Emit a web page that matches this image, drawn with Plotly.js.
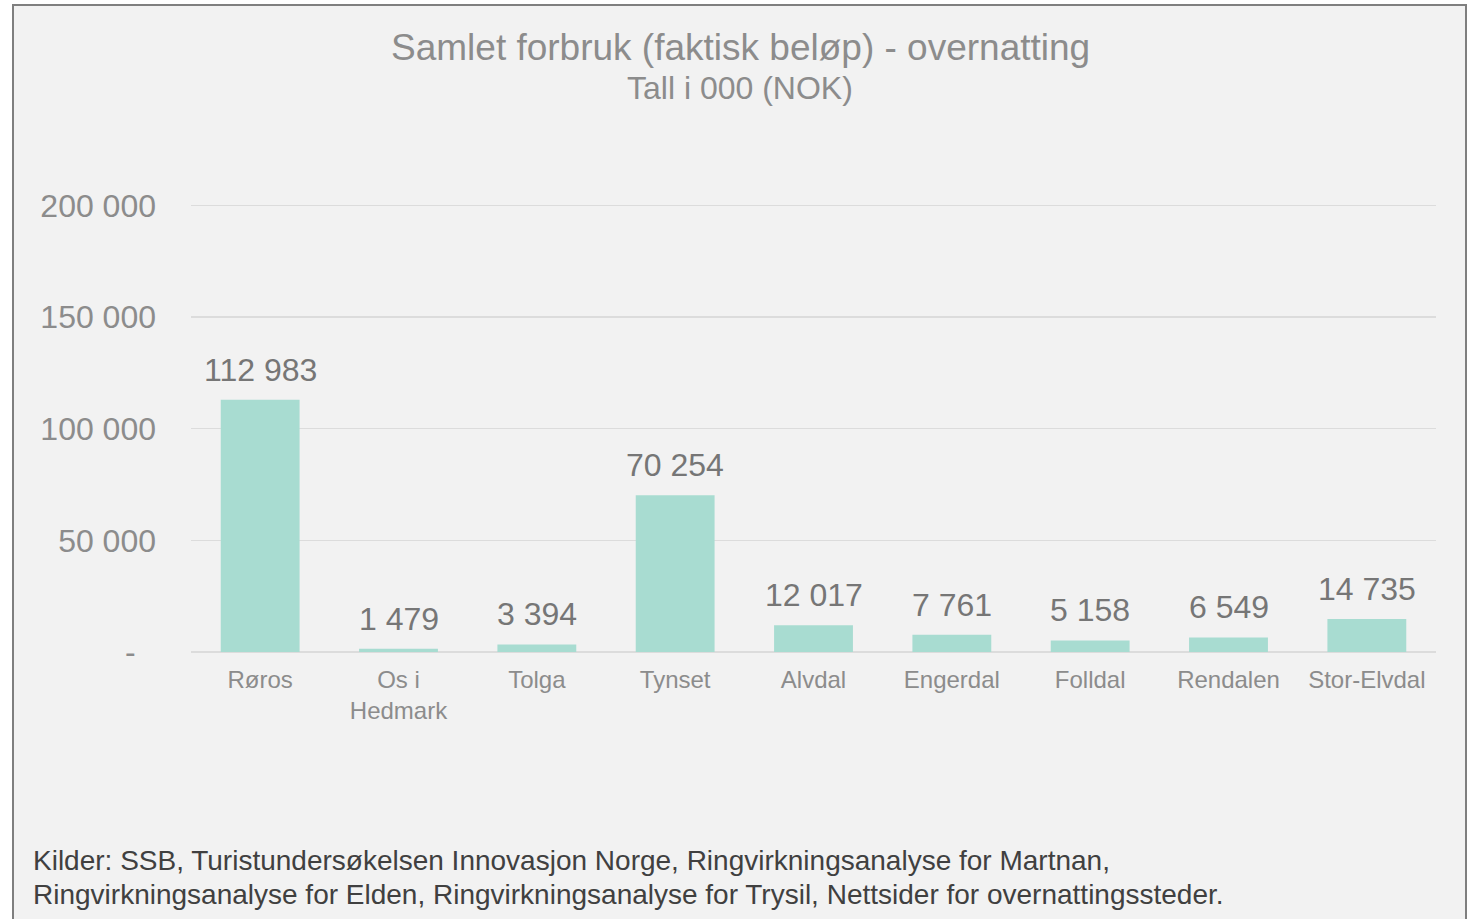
<!DOCTYPE html>
<html>
<head>
<meta charset="utf-8">
<script src="https://cdn.plot.ly/plotly-3.0.1.min.js"></script>
<style>
  html, body { margin: 0; padding: 0; background: #ffffff; overflow: hidden; }
  #frame {
    position: absolute; left: 12px; top: 4px;
    width: 1451px; height: 940px;
    border: 2px solid #7f7f7f;
    background: #f2f2f2;
  }
  #chart { width: 1451px; height: 940px; }
</style>
</head>
<body>
<div id="frame"><div id="chart"></div></div>
<script>
// data
const kommuner = ['Røros', 'Os i<br>Hedmark', 'Tolga', 'Tynset', 'Alvdal',
                  'Engerdal', 'Folldal', 'Rendalen', 'Stor-Elvdal'];
const forbruk  = [112983, 1479, 3394, 70254, 12017, 7761, 5158, 6549, 14735];
const yTicks   = [0, 50000, 100000, 150000, 200000];
const yLabels  = ['-\u00a0\u00a0\u200a', '50 000', '100 000', '150 000', '200 000'];
const kilder   = ['Kilder: SSB, Turistundersøkelsen Innovasjon Norge, Ringvirkningsanalyse for Martnan,',
                  'Ringvirkningsanalyse for Elden, Ringvirkningsanalyse for Trysil, Nettsider for overnattingssteder.'];

const FONT = 'Liberation Sans, Arial, sans-serif';
const PLOT_L = 177, PLOT_W = 1451 - 177 - 29;
const TOP = 195, ZERO_Y = 646;   // px inside the frame

// 112983 -> "112 983"
const fmt = n => String(n).replace(/\B(?=(\d{3})+(?!\d))/g, ' ');

const barTrace = {
    type: 'bar',
    x: kommuner,
    y: forbruk,
    marker: { color: '#a8dcd1' },
    hoverinfo: 'x+y'
};

// value labels above the bars
const valueLabels = kommuner.map((k, i) => ({
    x: k, y: forbruk[i], xref: 'x', yref: 'y',
    text: fmt(forbruk[i]), showarrow: false,
    yanchor: 'bottom', yshift: 10,
    font: { family: FONT, size: 32, color: '#767676' }
}));

// frame x (px) -> paper fraction
const px = x => (x - PLOT_L) / PLOT_W;

const footer = kilder.map((t, i) => ({
    xref: 'paper', yref: 'paper', x: px(17), y: 0, xanchor: 'left', yanchor: 'middle',
    yshift: ZERO_Y - (854 + 34 * i), showarrow: false, text: t,
    font: { family: FONT, size: 28, color: '#404040' }
}));

const layout = {
    width: 1451, height: 940,
    margin: { l: PLOT_L, r: 29, t: TOP, b: 940 - ZERO_Y },
    paper_bgcolor: '#f2f2f2',
    plot_bgcolor: '#f2f2f2',
    showlegend: false,
    bargap: 0.43,
    font: { family: FONT, color: '#8a8a8a' },
    xaxis: {
        type: 'category',
        showgrid: false, showline: false, zeroline: false,
        ticks: '', ticklabelstandoff: 11,
        tickfont: { family: FONT, size: 24, color: '#8c8c8c' }
    },
    yaxis: {
        range: [0, 202000],
        tickvals: yTicks, ticktext: yLabels,
        showgrid: true, gridcolor: '#dcdcdc', gridwidth: 1.5,
        zeroline: true, zerolinecolor: '#dcdcdc', zerolinewidth: 1.5,
        showline: false, ticks: '', ticklabelstandoff: 34,
        tickfont: { family: FONT, size: 32, color: '#8c8c8c' }
    },
    annotations: [
        {
            xref: 'paper', yref: 'paper', x: px(726), y: 1, xanchor: 'center', yanchor: 'middle',
            yshift: TOP - 41, showarrow: false,
            text: 'Samlet forbruk (faktisk beløp) - overnatting',
            font: { family: FONT, size: 37, color: '#8c8c8c' }
        },
        {
            xref: 'paper', yref: 'paper', x: px(726), y: 1, xanchor: 'center', yanchor: 'middle',
            yshift: TOP - 82, showarrow: false,
            text: 'Tall i 000 (NOK)',
            font: { family: FONT, size: 32, color: '#8c8c8c' }
        },
        ...footer,
        ...valueLabels
    ]
};

Plotly.newPlot('chart', [barTrace], layout, { displayModeBar: false, staticPlot: true });
</script>
</body>
</html>
